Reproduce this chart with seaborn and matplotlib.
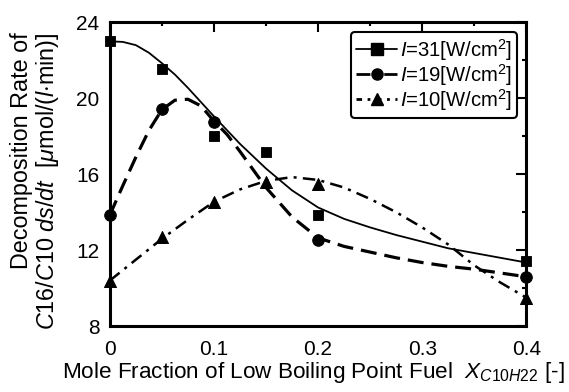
import matplotlib
matplotlib.use("Agg")
import matplotlib.pyplot as plt
import seaborn as sns
from matplotlib.lines import Line2D
from matplotlib.ticker import MultipleLocator

sns.set_theme(style="white")
plt.rcParams['font.family'] = ['Liberation Sans', 'DejaVu Sans']
plt.rcParams['mathtext.fontset'] = 'custom'
plt.rcParams['mathtext.rm'] = 'Liberation Sans'
plt.rcParams['mathtext.it'] = 'Liberation Sans:italic'
plt.rcParams['mathtext.bf'] = 'Liberation Sans:bold'
for key in ['text.color', 'axes.labelcolor', 'xtick.color', 'ytick.color']:
    plt.rcParams[key] = 'black'

# measured points
x_pts = [0.0, 0.05, 0.1, 0.15, 0.2, 0.4]
i31_pts = [23.0, 21.55, 18.0, 17.15, 13.85, 11.45]
x19_pts = [0.0, 0.05, 0.1, 0.2, 0.4]
i19_pts = [13.85, 19.45, 18.75, 12.55, 10.6]
i10_pts = [10.4, 12.7, 14.55, 15.6, 15.5, 9.5]

# fitted trend curves
x31_curve = [0.0, 0.0125, 0.025, 0.0375, 0.05, 0.0625, 0.075, 0.0875, 0.1, 0.125,
             0.15, 0.175, 0.2, 0.225, 0.25, 0.275, 0.3, 0.325, 0.35, 0.375, 0.4]
i31_curve = [23.0, 22.97, 22.8, 22.4, 21.85, 21.25, 20.55, 19.8, 19.05, 17.6,
             16.3, 15.15, 14.25, 13.65, 13.2, 12.8, 12.45, 12.1, 11.85, 11.6, 11.35]
x19_curve = [0.0, 0.0125, 0.025, 0.0375, 0.05, 0.0625, 0.075, 0.0875, 0.1, 0.1125,
             0.125, 0.15, 0.175, 0.2, 0.225, 0.25, 0.275, 0.3, 0.325, 0.35, 0.375, 0.4]
i19_curve = [13.85, 15.4, 16.9, 18.3, 19.4, 19.9, 19.95, 19.6, 18.8, 18.1,
             17.2, 15.3, 13.75, 12.65, 12.2, 11.9, 11.6, 11.35, 11.15, 11.0, 10.8, 10.6]
x10_curve = [0.0, 0.025, 0.05, 0.075, 0.1, 0.125, 0.15, 0.175, 0.2, 0.225,
             0.25, 0.275, 0.3, 0.325, 0.35, 0.375, 0.4]
i10_curve = [10.4, 11.5, 12.6, 13.6, 14.55, 15.2, 15.65, 15.85, 15.7, 15.3,
             14.7, 14.0, 13.2, 12.3, 11.2, 10.3, 9.5]

labels = [r"$\mathit{I}$=31[W/cm$^2$]", r"$\mathit{I}$=19[W/cm$^2$]", r"$\mathit{I}$=10[W/cm$^2$]"]
ylabel_lines = ["Decomposition Rate of",
                r"$\mathit{C16/C10\ ds/dt}$  [$\mathit{\mu}$mol/($\mathit{l}$$\cdot$min)]"]

W, H = 569, 392
fig = plt.figure(figsize=(W / 100, H / 100), dpi=100)
ax = fig.add_axes([0.193, 0.168, 0.732, 0.775])

k = 'black'
sns.lineplot(x=x31_curve, y=i31_curve, ax=ax, color=k, lw=1.3, ls='-', sort=False)
sns.lineplot(x=x19_curve, y=i19_curve, ax=ax, color=k, lw=2.3, sort=False)
ax.lines[-1].set_dashes([5, 2.5])
sns.lineplot(x=x10_curve, y=i10_curve, ax=ax, color=k, lw=1.8, sort=False)
ax.lines[-1].set_dashes([5, 2.5, 1.2, 2.5])

sns.scatterplot(x=x_pts, y=i31_pts, ax=ax, marker='s', s=60, color=k, edgecolor=k, zorder=5, clip_on=False)
sns.scatterplot(x=x19_pts, y=i19_pts, ax=ax, marker='o', s=70, color=k, edgecolor=k, zorder=5, clip_on=False)
sns.scatterplot(x=x_pts, y=i10_pts, ax=ax, marker='^', s=75, color=k, edgecolor=k, zorder=5, clip_on=False)

ax.set_xlim(0, 0.4)
ax.set_ylim(8, 24)
ax.set_xticks([0, 0.1, 0.2, 0.3, 0.4])
ax.set_xticklabels(["0", "0.1", "0.2", "0.3", "0.4"])
ax.set_yticks([8, 12, 16, 20, 24])
ax.xaxis.set_minor_locator(MultipleLocator(0.05))
ax.yaxis.set_minor_locator(MultipleLocator(2))
ax.tick_params(which='both', direction='in', top=True, right=True, colors=k,
               labelsize=15, width=1.5)
ax.tick_params(which='major', length=7)
ax.tick_params(which='minor', length=3)
ax.tick_params(axis='x', which='major', pad=10)
ax.tick_params(axis='y', which='major', pad=7.5)
for s in ax.spines.values():
    s.set_linewidth(2.2)
    s.set_color(k)

ax.set_xlabel(r"Mole Fraction of Low Boiling Point Fuel  $X_{C10H22}$ [-]", fontsize=16.2)
ax.xaxis.set_label_coords(0.488, -0.11)
ax.set_ylabel("")
fig.text(22 / W, 1 - 32 / H, ylabel_lines[0], rotation=90, ha='center', va='top', fontsize=16.8)
fig.text(48 / W, 1 - 32 / H, ylabel_lines[1], rotation=90, ha='center', va='top', fontsize=16.8)

handles = [
    Line2D([], [], color=k, lw=1.3, ls='-', marker='s', ms=8),
    Line2D([], [], color=k, lw=2.0, ls=(0, (5, 2, 1, 2)), marker='o', ms=8),
    Line2D([], [], color=k, lw=2.0, ls=(0, (2, 2, 1, 2)), marker='^', ms=8),
]
leg = ax.legend(handles, labels, loc='upper right', fontsize=14.6, frameon=True,
                fancybox=True, edgecolor=k, handlelength=2.0, handletextpad=0.15,
                borderpad=0.25, labelspacing=-0.05, borderaxespad=0,
                bbox_to_anchor=(0.978, 0.969))
leg.get_frame().set_linewidth(1.5)
leg.get_frame().set_alpha(1)

fig.savefig("out.png", dpi=100)
